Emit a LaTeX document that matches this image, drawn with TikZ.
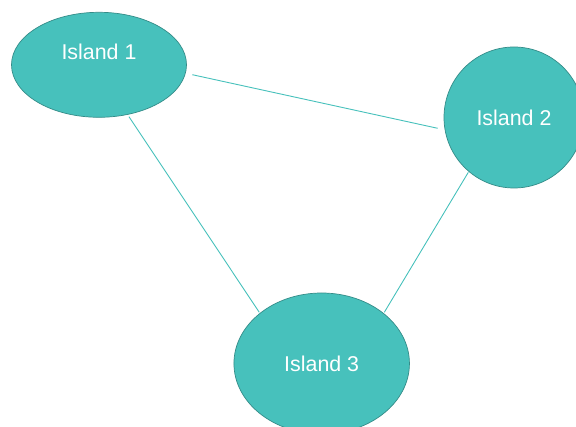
\documentclass[tikz,border=0pt]{standalone}
\usepackage{fontspec}
\setmainfont{Liberation Sans}
\usetikzlibrary{shapes.geometric}
\definecolor{islandfill}{RGB}{71,193,188}
\definecolor{islandedge}{RGB}{52,140,136}
\definecolor{bridge}{RGB}{71,193,188}
\tikzset{
  island/.style={ellipse, fill=islandfill, draw=islandedge, line width=0.7pt,
    inner sep=0pt, text=white, font=\fontsize{21.4}{25}\selectfont},
  islandtext/.style={text=white, font=\fontsize{21.4}{25}\selectfont},
  link/.style={draw=bridge, line width=0.9pt}
}
\begin{document}
\begin{tikzpicture}[x=1pt, y=-1pt]
  \useasboundingbox (0,0) rectangle (576,427);
  \fill[white] (0,0) rectangle (576,427);
  \clip (0,0) rectangle (576,427);

  % islands
  \node[island, minimum width=175pt, minimum height=105pt,
        label={[islandtext, yshift=12.6pt]center:Island 1}] (i1) at (99,64.8) {};
  \node[island, minimum width=140pt, minimum height=141pt] (i2) at (514,117.5) {Island 2};
  \node[island, minimum width=175.5pt, minimum height=141pt] (i3) at (321.7,363.5) {Island 3};

  % bridges between the islands
  \draw[link] ([shift={(93.3,9.9)}]i1.center) -- ([shift={(-76.3,10.8)}]i2.center);
  \draw[link] ([shift={(30,51.9)}]i1.center) -- ([shift={(-62.4,-51.2)}]i3.center);
  \draw[link] ([shift={(-45.7,54.8)}]i2.center) -- ([shift={(62.6,-51.2)}]i3.center);
\end{tikzpicture}
\end{document}
